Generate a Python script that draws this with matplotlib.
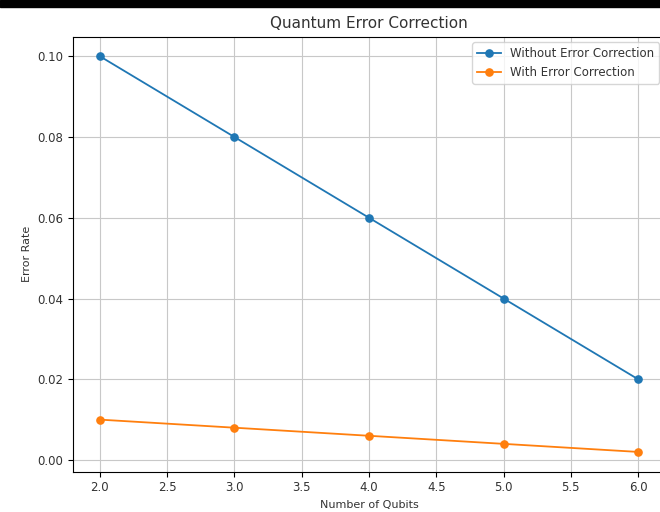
import matplotlib
matplotlib.use("Agg")
import matplotlib.pyplot as plt
from matplotlib.patches import Rectangle

num_qubits = [2, 3, 4, 5, 6]
error_without = [0.10, 0.08, 0.06, 0.04, 0.02]
error_with = [0.010, 0.008, 0.006, 0.004, 0.002]

fig = plt.figure(figsize=(6.6, 5.12), dpi=100)
ax = fig.add_axes([0.1106, 0.0787, 0.897, 0.850])

ax.plot(num_qubits, error_without, marker="o", lw=1.3, ms=5.2, label="Without Error Correction")
ax.plot(num_qubits, error_with, marker="o", lw=1.3, ms=5.2, label="With Error Correction")

ax.set_title("Quantum Error Correction", fontsize=11, color="#333333")
ax.set_xlabel("Number of Qubits", fontsize=8, color="#333333")
ax.set_ylabel("Error Rate", fontsize=8, color="#333333")
ax.tick_params(labelsize=8.5, labelcolor="#333333")
ax.legend(fontsize=8.5, labelcolor="#333333")
ax.grid(True, color="#c8c8c8")

# dark strip across the top of the screenshot
fig.patches.append(Rectangle((0, 0.986), 1, 0.014, transform=fig.transFigure,
                             color="black", zorder=10))

fig.savefig("out.png", dpi=100)
